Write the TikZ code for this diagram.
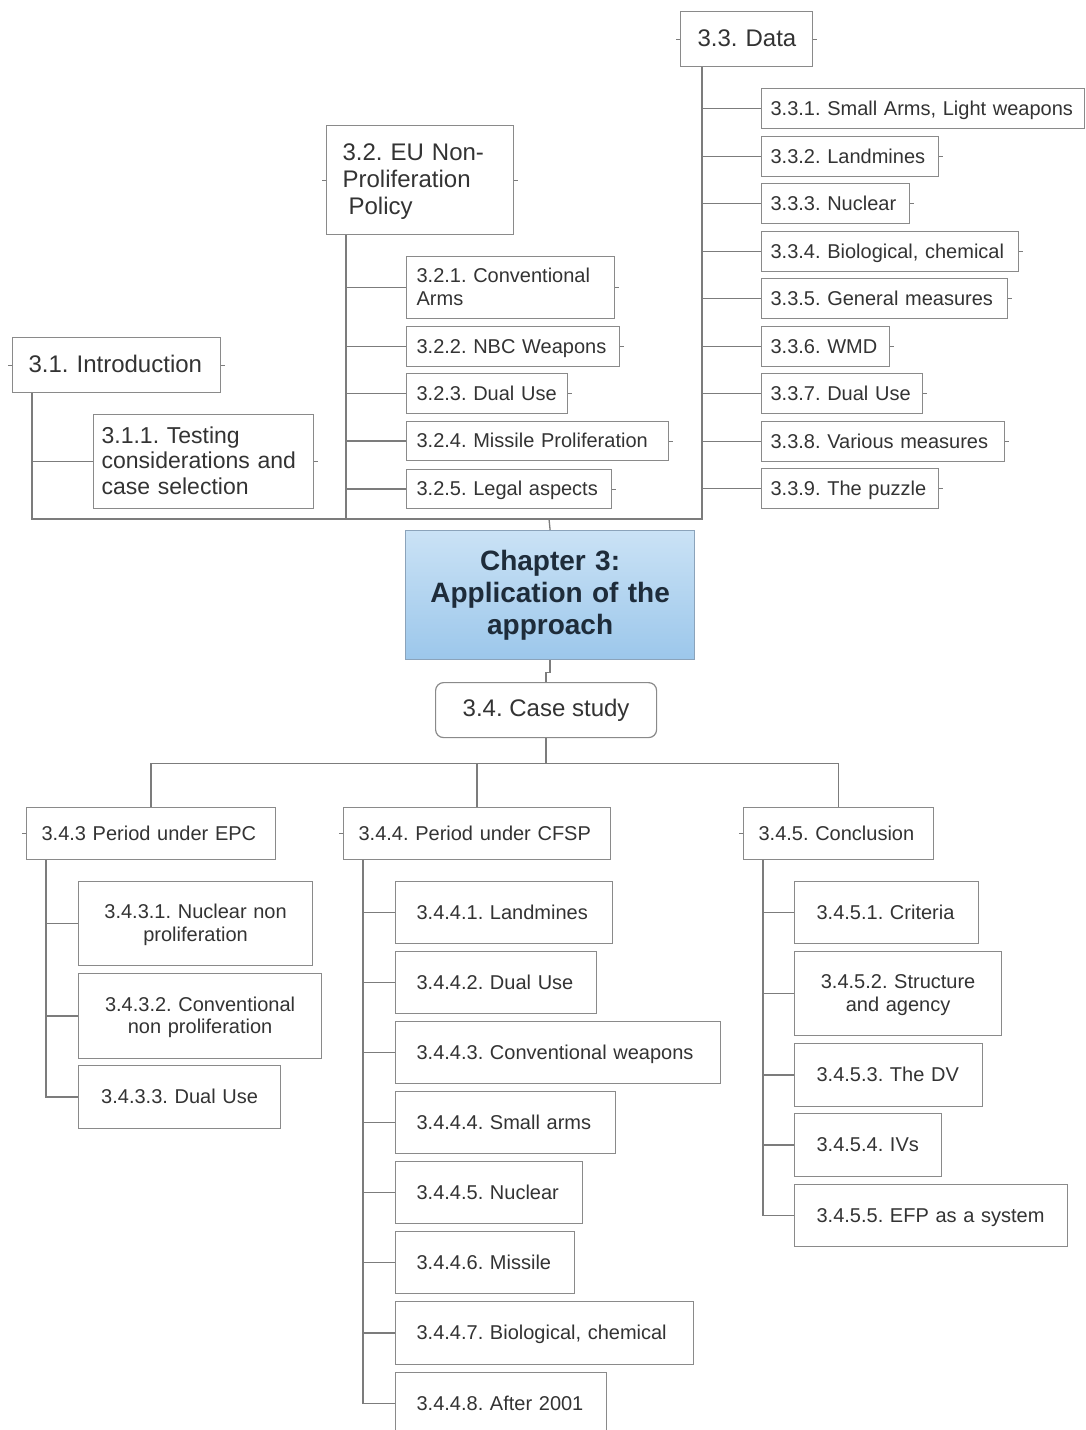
\documentclass[tikz,border=0pt]{standalone}
\usepackage{fontspec}
\setmainfont{Liberation Sans}
\frenchspacing
\definecolor{boxc}{HTML}{8A8A8A}
\definecolor{linec}{HTML}{7C7C7C}
\definecolor{txt}{HTML}{333333}
\definecolor{chtop}{HTML}{CAE2F5}
\definecolor{chbot}{HTML}{9CC7EB}
\definecolor{chedge}{HTML}{8BA3BA}
\definecolor{chtxt}{HTML}{1E2C3A}

% rectangular box given by its corners (in px units) and a left text inset;
% lines are set in a tabular so that they never wrap
\newcommand\tbox[8]{%
  \pgfmathsetmacro\boxh{#6-#4}%
  \pgfmathsetmacro\boxtw{#5-#3-2*#7}%
  \node[anchor=north west, inner xsep=#7pt, inner ysep=0pt,
        text width=\boxtw pt, minimum height=\boxh pt, align=left, #2]
        (#1) at (#3,#4) {\raisebox{-2pt}[\height][\depth]{\begin{tabular}{@{}l@{}}#8\end{tabular}}};%
}
% same, with the lines centred
\newcommand\cbox[7]{%
  \pgfmathsetmacro\boxh{#6-#4}%
  \pgfmathsetmacro\boxtw{#5-#3-20}%
  \node[anchor=north west, inner xsep=10pt, inner ysep=0pt,
        text width=\boxtw pt, minimum height=\boxh pt, align=center, #2]
        (#1) at (#3,#4) {\raisebox{-2pt}[\height][\depth]{\begin{tabular}{@{}c@{}}#7\end{tabular}}};%
}

\tikzset{
  box/.style={draw=boxc, line width=1.2pt, fill=white, text=txt},
  small/.style={font=\fontsize{20}{22.5}\selectfont},
  mid/.style={font=\fontsize{23}{25.5}\selectfont},
  big/.style={font=\fontsize{24}{27}\selectfont},
  conn/.style={draw=linec, line width=1.3pt},
  tick/.style={draw=linec, line width=1pt},
}

\begin{document}
\begin{tikzpicture}[x=1pt, y=-1pt]
\useasboundingbox (0,0) rectangle (1085,1430);
\fill[white] (0,0) rectangle (1085,1430);

% ---------- upper branches ----------
\tbox{intro}{box,big}{12}{337}{220}{392}{16}{3.1. Introduction}
\tbox{i1}{box,mid}{93}{414}{313}{508}{8}{3.1.1. Testing\\considerations and\\case selection}

\tbox{eu}{box,big}{326}{125}{513}{234}{16}{3.2. EU Non-\\Proliferation\\\hspace*{6pt}Policy}
\tbox{e1}{box,small}{406}{256}{614}{318}{10}{3.2.1. Conventional\\Arms}
\tbox{e2}{box,small}{406}{326}{619}{366}{10}{3.2.2. NBC Weapons}
\tbox{e3}{box,small}{406}{373}{567}{413}{10}{3.2.3. Dual Use}
\tbox{e4}{box,small}{406}{421}{668}{460}{10}{3.2.4. Missile Proliferation}
\tbox{e5}{box,small}{406}{469}{611}{508}{10}{3.2.5. Legal aspects}

\tbox{data}{box,big}{680}{11}{812}{66}{17}{3.3. Data}
\tbox{d1}{box,small}{761}{88}{1084}{128}{9}{3.3.1. Small Arms, Light weapons}
\tbox{d2}{box,small}{761}{136}{938}{176}{9}{3.3.2. Landmines}
\tbox{d3}{box,small}{761}{183}{909}{223}{9}{3.3.3. Nuclear}
\tbox{d4}{box,small}{761}{231}{1018}{271}{9}{3.3.4. Biological, chemical}
\tbox{d5}{box,small}{761}{278}{1007}{318}{9}{3.3.5. General measures}
\tbox{d6}{box,small}{761}{326}{889}{366}{9}{3.3.6. WMD}
\tbox{d7}{box,small}{761}{373}{922}{413}{9}{3.3.7. Dual Use}
\tbox{d8}{box,small}{761}{421}{1004}{461}{9}{3.3.8. Various measures}
\tbox{d9}{box,small}{761}{468}{938}{508}{9}{3.3.9. The puzzle}

% ---------- chapter and case study ----------
\node[anchor=north west, draw=chedge, line width=1.2pt,
      top color=chtop, bottom color=chbot,
      minimum width=289pt, minimum height=129pt, text width=270pt, align=center,
      text=chtxt, font=\bfseries\fontsize{28}{32}\selectfont]
      (chap) at (405,530) {Chapter 3:\\Application of the\\approach};

\node[anchor=north west, box, big, rounded corners=8pt,
      minimum width=221pt, minimum height=55pt, inner sep=0pt]
      (case) at (435,682) {3.4. Case study};

% ---------- lower branches ----------
\tbox{epc}{box,small}{26}{807}{275}{859}{15}{3.4.3 Period under EPC}
\cbox{p1}{box,small}{78}{881}{312}{965}{3.4.3.1. Nuclear non\\proliferation}
\cbox{p2}{box,small}{78}{973}{321}{1058}{3.4.3.2. Conventional\\non proliferation}
\cbox{p3}{box,small}{78}{1065}{280}{1128}{3.4.3.3. Dual Use}

\tbox{cfsp}{box,small}{343}{807}{610}{859}{15}{3.4.4. Period under CFSP}
\tbox{f1}{box,small}{395}{881}{612}{943}{21}{3.4.4.1. Landmines}
\tbox{f2}{box,small}{395}{951}{596}{1013}{21}{3.4.4.2. Dual Use}
\tbox{f3}{box,small}{395}{1021}{720}{1083}{21}{3.4.4.3. Conventional weapons}
\tbox{f4}{box,small}{395}{1091}{615}{1153}{21}{3.4.4.4. Small arms}
\tbox{f5}{box,small}{395}{1161}{582}{1223}{21}{3.4.4.5. Nuclear}
\tbox{f6}{box,small}{395}{1231}{574}{1293}{21}{3.4.4.6. Missile}
\tbox{f7}{box,small}{395}{1301}{693}{1364}{21}{3.4.4.7. Biological, chemical}
\tbox{f8}{box,small}{395}{1372}{606}{1434}{21}{3.4.4.8. After 2001}

\tbox{concl}{box,small}{743}{807}{933}{859}{15}{3.4.5. Conclusion}
\tbox{k1}{box,small}{794}{881}{978}{943}{22}{3.4.5.1. Criteria}
\cbox{k2}{box,small}{794}{951}{1001}{1035}{3.4.5.2. Structure\\and agency}
\tbox{k3}{box,small}{794}{1043}{982}{1106}{22}{3.4.5.3. The DV}
\tbox{k4}{box,small}{794}{1113}{941}{1176}{22}{3.4.5.4. IVs}
\tbox{k5}{box,small}{794}{1184}{1067}{1246}{22}{3.4.5.5. EFP as a system}

% ---------- connectors, upper tree ----------
\coordinate (bus) at (549,519);
\draw[conn] ([xshift=20pt]intro.south west) |- (bus);
\draw[conn] ([xshift=20pt]eu.south west) |- (bus);
\draw[conn] ([xshift=22pt]data.south west) |- (bus);
\draw[conn] (bus) -- (chap.north);

\draw[conn] ([xshift=20pt]intro.south west) |- (i1.west);
\foreach \c in {e1,e2,e3,e4,e5}
  \draw[conn] ([xshift=20pt]eu.south west) |- (\c.west);
\foreach \c in {d1,d2,d3,d4,d5,d6,d7,d8,d9}
  \draw[conn] ([xshift=22pt]data.south west) |- (\c.west);

% ---------- connectors, lower tree ----------
\draw[conn] (chap.south) -- ++(0,12) -| (case.north);
\draw[conn] (case.south) -- ++(0,25) coordinate (hub);
\draw[conn] (hub) -| (epc.north);
\draw[conn] (hub) -| (cfsp.north);
\draw[conn] (hub) -| (concl.north);

\foreach \c in {p1,p2,p3}
  \draw[conn] ([xshift=20pt]epc.south west) |- (\c.west);
\foreach \c in {f1,f2,f3,f4,f5,f6,f7,f8}
  \draw[conn] ([xshift=20pt]cfsp.south west) |- (\c.west);
\foreach \c in {k1,k2,k3,k4,k5}
  \draw[conn] ([xshift=20pt]concl.south west) |- (\c.west);

% ---------- small side ticks ----------
\foreach \c in {intro,eu,data,epc,cfsp,concl}
  \draw[tick] (\c.west) -- ++(-4,0);
\foreach \c in {intro,i1,eu,data,e1,e2,e3,e4,e5,d2,d3,d4,d5,d6,d7,d8,d9}
  \draw[tick] (\c.east) -- ++(4,0);
\end{tikzpicture}
\end{document}
